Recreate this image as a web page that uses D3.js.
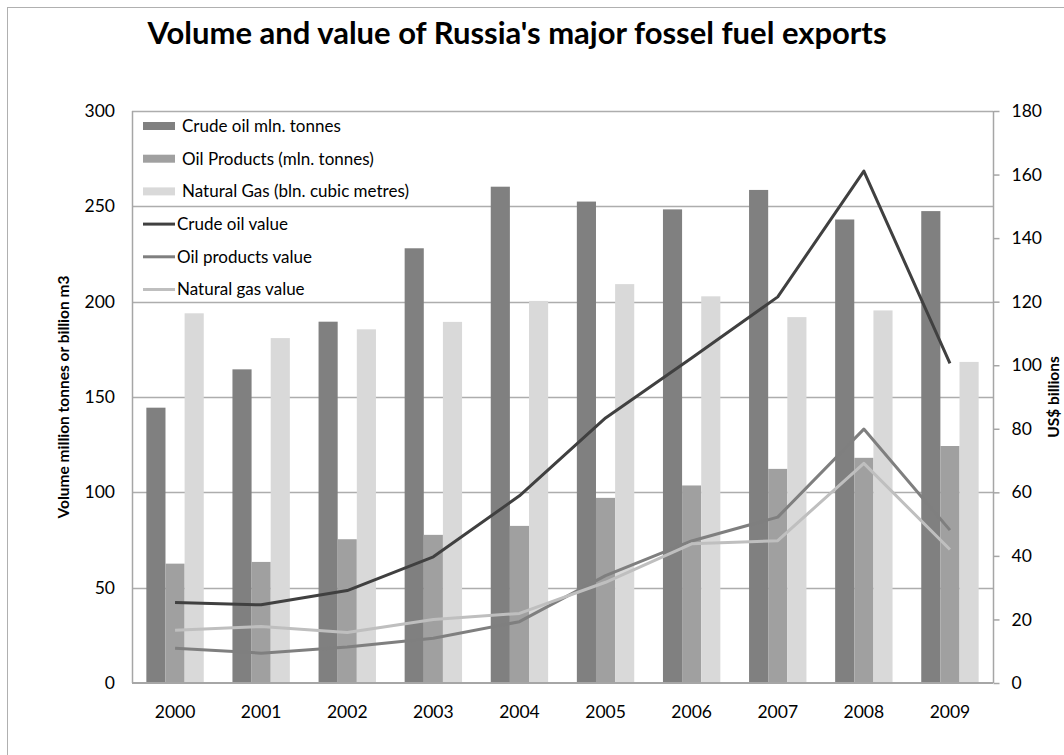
<!DOCTYPE html>
<html>
<head>
<meta charset="utf-8">
<script src="https://cdn.jsdelivr.net/npm/d3@7"></script>
<style>
  body { margin: 0; background: #fff; }
  svg { display: block; }
  text { font-family: Lato, "Open Sans", "DejaVu Sans", sans-serif; fill: #000; }
</style>
</head>
<body>
<svg id="chart" width="1064" height="755"></svg>
<script>
// Russia's fossil fuel exports, 2000-2009
const years = ["2000","2001","2002","2003","2004","2005","2006","2007","2008","2009"];

// volumes (million tonnes / billion cubic metres) - left axis
const crudeOilVolume   = [144.4, 164.5, 189.5, 228.0, 260.3, 252.5, 248.4, 258.6, 243.1, 247.5];
const oilProductVolume = [62.6, 63.5, 75.4, 77.7, 82.4, 97.1, 103.6, 112.3, 118.1, 124.3];
const naturalGasVolume = [193.9, 180.9, 185.5, 189.4, 200.4, 209.2, 202.8, 191.9, 195.4, 168.4];

// values (US$ billions) - right axis
const crudeOilValue   = [25.3, 24.6, 29.1, 39.7, 58.9, 83.4, 102.3, 121.5, 161.1, 100.6];
const oilProductValue = [10.9, 9.4, 11.3, 14.1, 19.3, 33.8, 44.7, 52.2, 79.9, 48.1];
const naturalGasValue = [16.6, 17.8, 15.9, 20.0, 21.9, 31.7, 43.8, 44.8, 69.1, 42.0];

const leftTicks  = [0, 50, 100, 150, 200, 250, 300];
const rightTicks = [0, 20, 40, 60, 80, 100, 120, 140, 160, 180];

const barSeries = [
  { name: "Crude oil mln. tonnes",             values: crudeOilVolume,   color: "#808080" },
  { name: "Oil Products (mln. tonnes)",        values: oilProductVolume, color: "#a0a0a0" },
  { name: "Natural Gas (bln. cubic metres)",   values: naturalGasVolume, color: "#d9d9d9" }
];
const lineSeries = [
  { name: "Crude oil value",     values: crudeOilValue,   color: "#404040" },
  { name: "Oil products value",  values: oilProductValue, color: "#7f7f7f" },
  { name: "Natural gas value",   values: naturalGasValue, color: "#bfbfbf" }
];

const svg = d3.select("#chart");
const plot = { left: 132, right: 993, top: 111, bottom: 683 };

// chart frame
svg.append("rect")
  .attr("x", 7.5).attr("y", 7.5).attr("width", 1100).attr("height", 800)
  .attr("fill", "#fff").attr("stroke", "#b0b0b0").attr("stroke-width", 1);

// title
svg.append("text")
  .attr("x", 517).attr("y", 44)
  .attr("text-anchor", "middle")
  .attr("font-weight", "bold")
  .attr("font-size", 31)
  .text("Volume and value of Russia's major fossel fuel exports");

const x = d3.scaleBand().domain(years).range([plot.left, plot.right]).padding(0);
const xInner = d3.scaleBand().domain(barSeries.map(d => d.name))
  .range([0, x.bandwidth()]).paddingInner(0).paddingOuter(0.75);
const yL = d3.scaleLinear().domain([0, 300]).range([plot.bottom, plot.top]);
const yR = d3.scaleLinear().domain([0, 180]).range([plot.bottom, plot.top]);

// horizontal gridlines
svg.append("g").selectAll("line")
  .data(leftTicks.filter(t => t > 0))
  .join("line")
  .attr("x1", plot.left).attr("x2", plot.right)
  .attr("y1", d => Math.round(yL(d)) + 0.5).attr("y2", d => Math.round(yL(d)) + 0.5)
  .attr("stroke", "#adadad").attr("stroke-width", 1.4);

// bars
const bars = svg.append("g");
barSeries.forEach(s => {
  bars.append("g").selectAll("rect")
    .data(years.map((yr, i) => ({ yr, v: s.values[i] })))
    .join("rect")
    .attr("x", d => x(d.yr) + xInner(s.name))
    .attr("y", d => yL(d.v))
    .attr("width", xInner.bandwidth())
    .attr("height", d => yL(0) - yL(d.v))
    .attr("fill", s.color);
});

// axis lines
svg.append("line")
  .attr("x1", plot.left + 0.5).attr("x2", plot.left + 0.5)
  .attr("y1", plot.top).attr("y2", plot.bottom)
  .attr("stroke", "#a6a6a6").attr("stroke-width", 1.5);
svg.append("line")
  .attr("x1", plot.right + 0.5).attr("x2", plot.right + 0.5)
  .attr("y1", plot.top).attr("y2", plot.bottom)
  .attr("stroke", "#a6a6a6").attr("stroke-width", 1.5);
svg.append("line")
  .attr("x1", plot.left).attr("x2", plot.right)
  .attr("y1", plot.bottom).attr("y2", plot.bottom)
  .attr("stroke", "#a6a6a6").attr("stroke-width", 2);

// value lines
const line = d3.line()
  .x((d, i) => x(years[i]) + x.bandwidth() / 2)
  .y(d => yR(d));
lineSeries.forEach(s => {
  svg.append("path")
    .datum(s.values)
    .attr("d", line)
    .attr("fill", "none")
    .attr("stroke", s.color)
    .attr("stroke-width", 3)
    .attr("stroke-linejoin", "round");
});

// left axis
const axL = svg.append("g")
  .attr("transform", `translate(${plot.left},0)`)
  .call(d3.axisLeft(yL).tickValues(leftTicks).tickSize(0).tickPadding(17));
axL.select(".domain").remove();
axL.selectAll("text").attr("font-size", 17.5).style("font-family", null);

// right axis
const axR = svg.append("g")
  .attr("transform", `translate(${plot.right + 0.5},0)`)
  .call(d3.axisRight(yR).tickValues(rightTicks).tickSize(6).tickPadding(12));
axR.select(".domain").remove();
axR.selectAll("line").attr("stroke", "#a6a6a6").attr("stroke-width", 1.5);
axR.selectAll("text").attr("font-size", 17.5).style("font-family", null);

// bottom axis
const axB = svg.append("g")
  .attr("transform", `translate(0,${plot.bottom})`)
  .call(d3.axisBottom(x).tickSize(0).tickPadding(23));
axB.select(".domain").remove();
axB.selectAll("text").attr("font-size", 17.5).style("font-family", null);
svg.selectAll(".tick text").attr("fill", "#000");

// axis titles
svg.append("text")
  .attr("transform", `translate(64,${(plot.top + plot.bottom) / 2}) rotate(-90)`)
  .attr("text-anchor", "middle")
  .attr("dy", "0.35em")
  .attr("font-weight", "bold")
  .attr("font-size", 15.5)
  .text("Volume million tonnes or billion m3");
svg.append("text")
  .attr("transform", `translate(1054,${(plot.top + plot.bottom) / 2}) rotate(-90)`)
  .attr("text-anchor", "middle")
  .attr("dy", "0.35em")
  .attr("font-weight", "bold")
  .attr("font-size", 15.5)
  .text("US$ billions");

// legend
const legend = svg.append("g");
const rowY = i => 126 + i * 32.7;
barSeries.forEach((s, i) => {
  legend.append("rect")
    .attr("x", 143).attr("y", rowY(i) - 4).attr("width", 32).attr("height", 8)
    .attr("fill", s.color);
  legend.append("text")
    .attr("x", 182).attr("y", rowY(i)).attr("dy", "0.35em")
    .attr("font-size", 17).text(s.name);
});
lineSeries.forEach((s, j) => {
  const i = j + 3;
  legend.append("line")
    .attr("x1", 143).attr("x2", 175).attr("y1", rowY(i)).attr("y2", rowY(i))
    .attr("stroke", s.color).attr("stroke-width", 3);
  legend.append("text")
    .attr("x", 177).attr("y", rowY(i)).attr("dy", "0.35em")
    .attr("font-size", 17).text(s.name);
});
</script>
</body>
</html>
